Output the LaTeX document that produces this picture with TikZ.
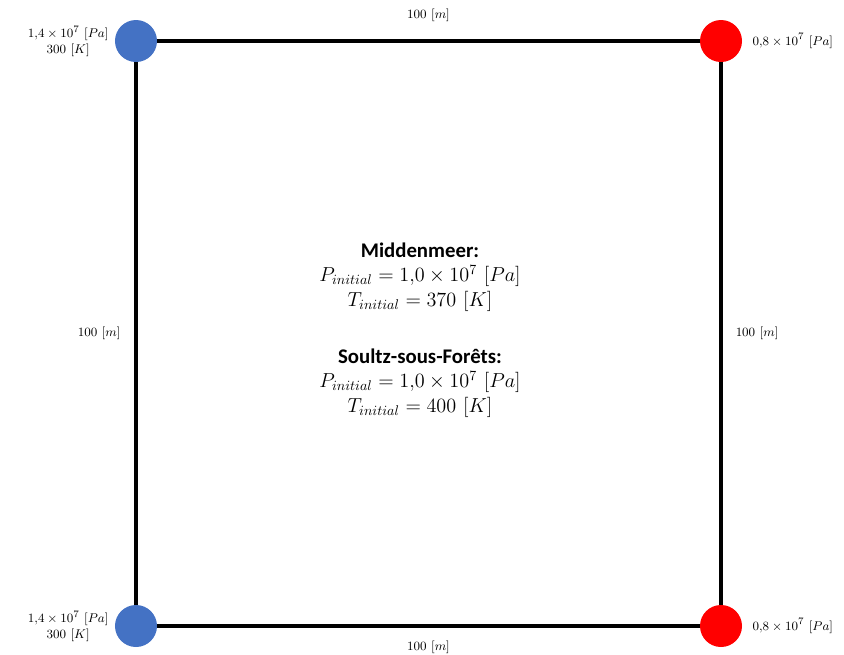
\documentclass[tikz,border=0pt]{standalone}
\usepackage{fontspec}
\setsansfont{Carlito}
\definecolor{WellBlue}{HTML}{4472C4}
\definecolor{WellRed}{HTML}{FF0000}
\usetikzlibrary{positioning}

\begin{document}
\begin{tikzpicture}[x=0.025cm, y=-0.025cm,
    well/.style={circle, inner sep=0pt, minimum size=1.05cm},
    lbl/.style={font=\fontsize{9.5}{11}\selectfont, align=center, inner sep=0pt},
    site/.style={font=\fontsize{14.8}{17.5}\selectfont, align=center, inner sep=0pt}]
  \useasboundingbox (0,0) rectangle (844,654);
  % wells at the corners
  \node[well, fill=WellBlue] (injtop) at (136,41) {};
  \node[well, fill=WellRed] (prodtop) at (721,41) {};
  \node[well, fill=WellBlue] (injbot) at (136,626) {};
  \node[well, fill=WellRed] (prodbot) at (721,626) {};
  % domain edges
  \draw[line width=2.2pt] (injtop) -- node[lbl, above=0.45cm] {$100\ [m]$} (prodtop);
  \draw[line width=2.2pt] (prodtop) -- node[lbl, right=0.33cm] {$100\ [m]$} (prodbot);
  \draw[line width=2.2pt] (prodbot) -- node[lbl, below=0.33cm] {$100\ [m]$} (injbot);
  \draw[line width=2.2pt] (injbot) -- node[lbl, left=0.35cm] {$100\ [m]$} (injtop);
  % boundary conditions
  \node[lbl, left=0.15cm of injtop] (bctop) {$1{,}4\times10^7\ [Pa]$\\$300\ [K]$};
  \node[lbl, left=0.15cm of injbot] (bcbot) {$1{,}4\times10^7\ [Pa]$\\$300\ [K]$};
  \node[lbl, right=0.25cm of prodtop] (pptop) {$0{,}8\times10^7\ [Pa]$};
  \node[lbl, right=0.25cm of prodbot] (ppbot) {$0{,}8\times10^7\ [Pa]$};
  % initial conditions
  \node[site] (midden) at (420,277) {\textbf{\sffamily Middenmeer:}\\
    $P_{initial} = 1{,}0\times10^7\ [Pa]$\\$T_{initial} = 370\ [K]$};
  \node[site] (soultz) at (420,383) {\textbf{\sffamily Soultz-sous-Forêts:}\\
    $P_{initial} = 1{,}0\times10^7\ [Pa]$\\$T_{initial} = 400\ [K]$};
\end{tikzpicture}
\end{document}
